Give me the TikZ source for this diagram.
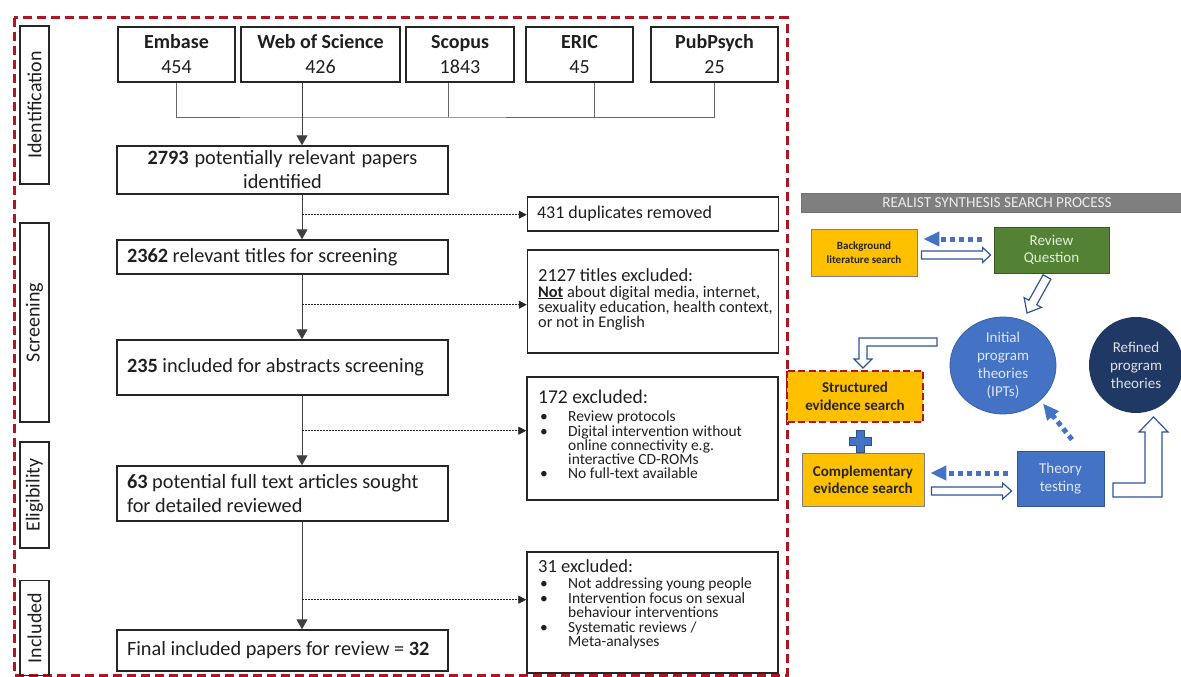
\documentclass[tikz,border=0pt]{standalone}
\usepackage{fontspec}
\setmainfont{Carlito}
\usetikzlibrary{arrows.meta,calc,shapes.geometric}
\definecolor{dred}{RGB}{175,22,35}
\definecolor{yel}{RGB}{255,192,0}
\definecolor{grn}{RGB}{84,130,53}
\definecolor{blu}{RGB}{68,114,196}
\definecolor{navy}{RGB}{31,56,100}
\definecolor{hdrgray}{RGB}{127,127,127}
\definecolor{hollowc}{RGB}{47,85,151}
\definecolor{lighttxt}{RGB}{222,231,246}
\definecolor{lightgrn}{RGB}{226,240,217}
\newcommand\bul{\makebox[30pt][l]{\hspace{2pt}\textbullet}}
\newcommand\cont{\hspace*{30pt}}
\newcommand\hollowh[5]{\draw[hollow] ($(#1)+(0,-#3)$) -- ($(#2)+(-#5,-#3)$) -- ($(#2)+(-#5,-#4)$) -- (#2) -- ($(#2)+(-#5,#4)$) -- ($(#2)+(-#5,#3)$) -- ($(#1)+(0,#3)$) -- cycle;}
\begin{document}
\begin{tikzpicture}[x=1pt,y=-1pt,
  every node/.style={execute at begin node={\spaceskip=0pt\xspaceskip=0pt\relax}},
  conn/.style={draw=black!60, line width=1pt},
  flowarr/.style={draw=black!75, line width=1pt, -{Triangle[width=11pt,length=10pt]}},
  dotarr/.style={draw=black!85, line width=0.8pt, dash pattern=on 1.5pt off 1.5pt, -{Triangle[width=8pt,length=8pt]}},
  bx/.style={draw=black!85, line width=1.4pt, rectangle, inner ysep=0pt, inner xsep=10pt, font=\fontsize{20.3}{24}\selectfont, text=black!88, minimum width=331pt, text width=311pt},
  dbbx/.style={draw=black!85, line width=1.4pt, rectangle, inner sep=0pt, align=center, minimum height=55pt, font=\fontsize{20}{25}\selectfont, text=black!88},
  exbx/.style={draw=black!85, line width=1.4pt, rectangle, inner sep=0pt, minimum width=251pt},
  extxt/.style={anchor=north west, inner sep=0pt, align=left, text=black!88},
  sidebox/.style={draw=black!85, line width=1.4pt, rectangle, rotate=90, inner sep=0pt, minimum height=29pt, font=\fontsize{20}{24}\selectfont, text=black!88},
  reddash/.style={draw=dred, line width=3pt, dash pattern=on 9pt off 5pt},
  hollow/.style={draw=hollowc, line width=1.2pt, fill=white, line join=miter},
  bdot/.style={draw=blu, line width=5pt, dash pattern=on 5pt off 4pt, -{Triangle[width=14pt,length=16pt]}},
  rbox/.style={rectangle, inner sep=0pt, align=center, font=\fontsize{15}{17.5}\selectfont}
]
\useasboundingbox (0,0) rectangle (1181,677);

% outer dashed frame
\draw[reddash] (14,18) rectangle (787,675);

% side labels
\node[sidebox, minimum width=158pt] (sid) at (34.5,105) {Identification};
\node[sidebox, minimum width=199pt] (sscr) at (34.5,322.5) {Screening};
\node[sidebox, minimum width=106pt] (seli) at (34.5,495) {Eligibility};
\node[sidebox, minimum width=95pt] (sinc) at (34.5,628) {Included};

% databases
\node[dbbx, minimum width=117pt] (emb) at (176.5,54.5) {\textbf{Embase}\\454};
\node[dbbx, minimum width=159pt] (wos) at (320.5,54.5) {\textbf{Web of Science}\\426};
\node[dbbx, minimum width=108pt] (sco) at (460,54.5) {\textbf{Scopus}\\1843};
\node[dbbx, minimum width=107pt] (eric) at (579.5,54.5) {\textbf{ERIC}\\45};
\node[dbbx, minimum width=127pt] (pub) at (714.5,54.5) {\textbf{PubPsych}\\25};

% main boxes
\node[bx, minimum height=48pt, align=center] (n2793) at (282.5,170) {\textbf{2793} potentially relevant papers\\identified};
\node[bx, minimum height=34pt, align=left] (n2362) at (282.5,257) {\textbf{2362} relevant titles for screening};
\node[bx, minimum height=55pt, align=left] (n235) at (282.5,367.5) {\textbf{235} included for abstracts screening};
\node[bx, minimum height=55pt, align=left] (n63) at (282.5,493.5) {\textbf{63} potential full text articles sought\\for detailed reviewed};
\node[bx, minimum height=41pt, align=left] (nfin) at (282.5,650.5) {Final included papers for review = \textbf{32}};

% excluded boxes
\node[exbx, minimum height=34pt] (dup) at (653,214) {};
\node[extxt, anchor=west, font=\fontsize{18}{21}\selectfont] (tdup) at ($(dup.west)+(10,0)$) {431 duplicates removed};
\node[exbx, minimum height=103pt] (ex1) at (653,301.5) {};
\node[extxt, font=\fontsize{16.3}{15}\selectfont] (tex1) at (538,268.5) {{\fontsize{18.5}{20}\selectfont 2127 titles excluded:}\\[0.5pt]
\textbf{\underline{Not}} about digital media, internet,\\
sexuality education, health context,\\
or not in English};
\node[exbx, minimum height=123pt] (ex2) at (652.5,438.5) {};
\node[extxt, font=\fontsize{15.5}{14.2}\selectfont] (tex2) at (538,389.5) {{\fontsize{19.5}{21}\selectfont 172 excluded:}\\[4.5pt]
\bul Review protocols\\
\bul Digital intervention without\\
\cont online connectivity e.g.\\
\cont interactive CD-ROMs\\
\bul No full-text available};
\node[exbx, minimum height=121pt] (ex3) at (652.5,612.5) {};
\node[extxt, font=\fontsize{15.5}{14.5}\selectfont] (tex3) at (538,559.5) {{\fontsize{18.5}{20}\selectfont 31 excluded:}\\[1.8pt]
\bul Not addressing young people\\
\bul Intervention focus on sexual\\
\cont behaviour interventions\\
\bul Systematic reviews /\\
\cont Meta-analyses};

% database connectors
\coordinate (bus) at (302,117);
\coordinate (wosc) at ($(wos.south)+(-18.5,0)$);
\coordinate (scoc) at ($(sco.south)+(-12,0)$);
\coordinate (ericc) at ($(eric.south)+(14.5,0)$);
\draw[conn] (emb.south) |- (bus) -| (pub.south);
\draw[conn] (scoc) -- (scoc |- bus);
\draw[conn] (ericc) -- (ericc |- bus);
\draw[flowarr] (wosc) -- (wosc |- n2793.north);

% main flow
\draw[flowarr] (n2793.south -| wosc) -- (n2362.north -| wosc);
\draw[flowarr] (n2362.south -| wosc) -- (n235.north -| wosc);
\draw[flowarr] (n235.south -| wosc) -- (n63.north -| wosc);
\draw[flowarr] (n63.south -| wosc) -- (nfin.north -| wosc);

% dotted exclusions
\coordinate (d1) at ($(n2793.south -| wosc)+(0,20)$);
\coordinate (d2) at ($(n2362.south -| wosc)+(0,30)$);
\coordinate (d3) at ($(n235.south -| wosc)+(0,35)$);
\coordinate (d4) at ($(n63.south -| wosc)+(0,78)$);
\draw[dotarr] (d1) -- (d1 -| dup.west);
\draw[dotarr] (d2) -- (d2 -| ex1.west);
\draw[dotarr] (d3) -- (d3 -| ex2.west);
\draw[dotarr] (d4) -- (d4 -| ex3.west);

% right panel
\node[rectangle, draw=black!55, line width=0.8pt, fill=hdrgray, minimum width=392pt, minimum height=19pt, inner sep=0pt, text=black!8, font=\fontsize{15.2}{16}\selectfont] (head) at (997,202.5) {REALIST SYNTHESIS SEARCH PROCESS};
\node[rbox, draw=black!50, line width=0.8pt, fill=yel, minimum width=106pt, minimum height=47pt, font=\bfseries\fontsize{11}{14}\selectfont, text=black!85] (bg) at (864,252.5) {Background\\literature search};
\node[rbox, draw=grn!70!black, line width=0.8pt, fill=grn, minimum width=115pt, minimum height=46pt, text=lightgrn, font=\fontsize{15}{17}\selectfont] (rq) at (1051.5,250) {Review\\Question};
\node[ellipse, inner sep=0pt, align=center, draw=blu!85!black, line width=0.8pt, fill=blu, minimum width=106pt, minimum height=97pt, text=lighttxt, font=\fontsize{15}{18}\selectfont] (init) at (1003,365.5) {Initial\\program\\theories\\(IPTs)};
\node[ellipse, inner sep=0pt, align=center, fill=navy, minimum width=94pt, minimum height=96pt, text=black!12, font=\fontsize{15}{18}\selectfont] (refd) at (1136,365) {Refined\\program\\theories};
\node[rbox, fill=yel, minimum width=136pt, minimum height=51pt, font=\bfseries\fontsize{15}{18}\selectfont, text=black!85] (struct) at (855,396.5) {Structured\\evidence search};
\draw[draw=dred, line width=2.5pt, dash pattern=on 7pt off 3.5pt] (struct.north west) rectangle (struct.south east);
\node[rbox, draw=black!50, line width=0.8pt, fill=yel, minimum width=122pt, minimum height=53pt, font=\bfseries\fontsize{15}{17}\selectfont, text=black!85] (comp) at (863,479.5) {Complementary\\evidence search};
\node[rbox, draw=blu!75!black, line width=0.8pt, fill=blu, minimum width=87pt, minimum height=55pt, text=lighttxt, font=\fontsize{15}{17.5}\selectfont] (theory) at (1060.5,478.5) {Theory\\testing};

% plus sign
\filldraw[fill=blu, draw=blu!70!black, line width=0.8pt] (856,430) -- (864,430) -- (864,437) -- (871,437) -- (871,445) -- (864,445) -- (864,452) -- (856,452) -- (856,445) -- (849,445) -- (849,437) -- (856,437) -- cycle;

% dotted blue arrows
\coordinate (a1) at ($(rq.west)+(-12,-11)$);
\draw[bdot] (a1) -- ($(bg.east |- a1)+(6,0)$);
\coordinate (a2) at ($(theory.west)+(-9,-5.5)$);
\draw[bdot] (a2) -- ($(comp.east |- a2)+(6,0)$);
\draw[bdot] ($(theory.north)+(11.5,-11)$) -- ($(init.center)+(40,38)$);

% hollow arrows
\coordinate (h1s) at ($(bg.east)+(4,2.5)$);
\path (rq.west |- h1s) ++(-3,0) coordinate (h1e);
\hollowh{h1s}{h1e}{4}{7.5}{8}
\coordinate (h2s) at ($(comp.east)+(7,11.5)$);
\path (theory.west |- h2s) ++(-5,0) coordinate (h2e);
\hollowh{h2s}{h2e}{4}{8}{9}
\draw[hollow] (1043.1,274.8) -- (1028.9,300.3) -- (1024.1,297.6) -- (1027,313) -- (1041.5,307.4) -- (1036.7,304.7) -- (1050.9,279.2) -- cycle;
\draw[hollow] (937,338) -- (859,338) -- (859,359) -- (854,359) -- (863,368) -- (872,359) -- (867,359) -- (867,346) -- (937,346) -- cycle;
\draw[hollow] (1113,483) -- (1145,483) -- (1145,432) -- (1139,432) -- (1153.5,417) -- (1168,432) -- (1162,432) -- (1162,497) -- (1113,497) -- cycle;
\end{tikzpicture}
\end{document}
